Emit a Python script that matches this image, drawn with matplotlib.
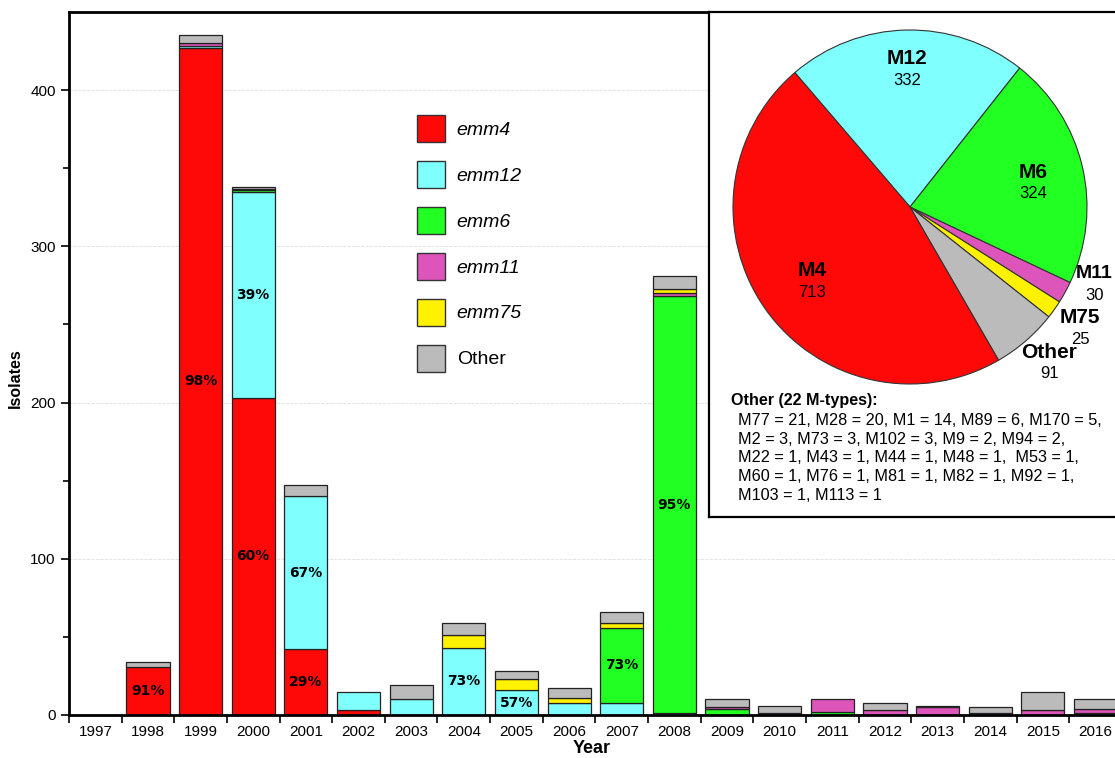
import numpy as np
import matplotlib
matplotlib.use("Agg")
import matplotlib.pyplot as plt
from matplotlib.patches import Patch
from matplotlib.ticker import MultipleLocator, FixedLocator

plt.rcParams["font.family"] = ["Liberation Sans", "DejaVu Sans"]

# --- data ---
years = [str(y) for y in range(1997, 2017)]
emm4 = [0, 31, 427, 203, 42, 3, 0, 0, 0, 0, 0, 0, 0, 0, 0, 0, 0, 0, 0, 0]
emm12 = [0, 0, 1, 132, 98, 12, 10, 43, 16, 8, 8, 1, 0, 0, 0, 0, 0, 0, 0, 1]
emm6 = [0, 0, 0, 1, 0, 0, 0, 0, 0, 0, 48, 267, 4, 0, 2, 0, 0, 0, 0, 0]
emm11 = [0, 0, 2, 0, 0, 0, 0, 0, 0, 0, 0, 2, 1, 1, 8, 3, 5, 1, 3, 3]
emm75 = [0, 0, 0, 1, 0, 0, 0, 8, 7, 3, 3, 3, 0, 0, 0, 0, 0, 0, 0, 0]
other = [0, 3, 5, 1, 7, 0, 9, 8, 5, 6, 7, 8, 5, 5, 0, 5, 1, 4, 12, 6]

series_names = ["emm4", "emm12", "emm6", "emm11", "emm75", "Other"]
series = [emm4, emm12, emm6, emm11, emm75, other]
colors = ["#ff0808", "#80ffff", "#22ff22", "#dd55bb", "#fff200", "#bbbbbb"]

# (year index, series index, label)
pct_labels = [(1, 0, "91%"), (2, 0, "98%"), (3, 0, "60%"), (3, 1, "39%"),
              (4, 0, "29%"), (4, 1, "67%"), (7, 1, "73%"), (8, 1, "57%"),
              (10, 2, "73%"), (11, 2, "95%")]

pie_names = ["M12", "M6", "M11", "M75", "Other", "M4"]
pie_values = [332, 324, 30, 25, 91, 713]
pie_colors = ["#80ffff", "#22ff22", "#dd55bb", "#fff200", "#bbbbbb", "#ff0808"]

other_title = "Other (22 M-types):"
other_lines = ["M77 = 21, M28 = 20, M1 = 14, M89 = 6, M170 = 5,",
               "M2 = 3, M73 = 3, M102 = 3, M9 = 2, M94 = 2,",
               "M22 = 1, M43 = 1, M44 = 1, M48 = 1,  M53 = 1,",
               "M60 = 1, M76 = 1, M81 = 1, M82 = 1, M92 = 1,",
               "M103 = 1, M113 = 1"]

W, H = 1115, 758
fig = plt.figure(figsize=(W / 100, H / 100), dpi=100)


def fx(px):
    return px / W


def fy(py):
    return 1 - py / H


ax = fig.add_axes([fx(69), fy(715), fx(1115 - 69), (715 - 12) / H])
x = np.arange(len(years))
bottom = np.zeros(len(years))
for vals, col in zip(series, colors):
    vals = np.array(vals, dtype=float)
    lw = [0.9 if v > 0 else 0 for v in vals]
    ax.bar(x, vals, width=0.82, bottom=bottom, color=col,
           edgecolor="#222222", linewidth=lw, zorder=2)
    bottom += vals

cum = np.cumsum(np.array(series, dtype=float), axis=0)
for i, s, txt in pct_labels:
    lo = cum[s - 1][i] if s > 0 else 0
    hi = cum[s][i]
    ax.text(x[i], (lo + hi) / 2, txt, ha="center", va="center",
            fontsize=10, fontweight="bold", family="DejaVu Sans", zorder=3)

ax.set_xlim(-0.5, 19.37)
ax.set_ylim(0, 450)
ax.set_xticks(x)
ax.set_xticklabels(years, fontsize=11)
ax.xaxis.set_minor_locator(FixedLocator(np.arange(-0.5, 20, 1)))
ax.tick_params(axis="x", which="major", length=0, pad=7)
ax.tick_params(axis="x", which="minor", length=6, width=1.2, direction="out")
ax.yaxis.set_major_locator(MultipleLocator(100))
ax.yaxis.set_minor_locator(FixedLocator([50, 150, 250, 350]))
ax.tick_params(axis="y", which="major", length=6, width=1.2, labelsize=11)
ax.tick_params(axis="y", which="minor", length=4, width=1.2)
ax.grid(axis="y", which="major", color="#dddddd", linestyle="--", linewidth=0.6)
ax.set_axisbelow(True)
for side in ("left", "bottom", "top"):
    ax.spines[side].set_linewidth(2)
ax.spines["right"].set_visible(False)
ax.set_ylabel("Isolates", fontsize=11.5, fontweight="bold")
ax.yaxis.set_label_coords((23 - 69) / 1046, (715 - 378) / 703)
ax.set_xlabel("Year", fontsize=13, fontweight="bold", labelpad=1)

handles = [Patch(facecolor=c, edgecolor="#333333", linewidth=1.0) for c in colors]
leg = fig.legend(handles, series_names, loc="upper left",
                 bbox_to_anchor=(fx(417), fy(115)), frameon=False, fontsize=14,
                 borderpad=0, borderaxespad=0, handlelength=1.44,
                 handleheight=1.75, handletextpad=0.6, labelspacing=0.98)
for t in leg.get_texts():
    if t.get_text().startswith("emm"):
        t.set_style("italic")

# inset box
box = fig.add_axes([fx(709), fy(517), fx(1130 - 709), (517 - 12) / H])
box.set_xticks([])
box.set_yticks([])
box.set_facecolor("white")
for sp in box.spines.values():
    sp.set_linewidth(1.6)
box.set_zorder(5)
box.text(22 / 421, 1 - (401 - 12) / 505, other_title, fontsize=11.6,
         fontweight="bold", va="center", ha="left", transform=box.transAxes)
box.text(29 / 421, 1 - (413 - 12) / 505, "\n".join(other_lines), fontsize=11.7,
         va="top", ha="left", linespacing=1.31, transform=box.transAxes)

# pie
pax = fig.add_axes([fx(733), fy(384), fx(354), 354 / H])
pax.set_zorder(6)
wedges, _ = pax.pie(pie_values, colors=pie_colors, startangle=130.6,
                    counterclock=False, radius=1,
                    wedgeprops=dict(edgecolor="#333333", linewidth=0.8))
pax.set_xlim(-1, 1)
pax.set_ylim(-1, 1)
pax.set_aspect("equal")
pax.axis("off")
label_r = [0.78, 0.71, 1.13, 1.18, 1.18, 0.695]
label_da = [0, -2, 6.2, 0, 1, 1.9]
label_fs = [15, 15, 14, 15, 15, 15]
for w, name, val, r, da, fs in zip(wedges, pie_names, pie_values,
                                    label_r, label_da, label_fs):
    ang = np.deg2rad((w.theta1 + w.theta2) / 2 + da)
    px, py = r * np.cos(ang), r * np.sin(ang)
    pax.annotate(name, (px, py), xytext=(0, 7.5), textcoords="offset points",
                 ha="center", va="center", fontsize=fs, fontweight="bold",
                 annotation_clip=False)
    pax.annotate(str(val), (px, py), xytext=(0, -8), textcoords="offset points",
                 ha="center", va="center", fontsize=12, annotation_clip=False)

fig.savefig("out.png", dpi=100)
